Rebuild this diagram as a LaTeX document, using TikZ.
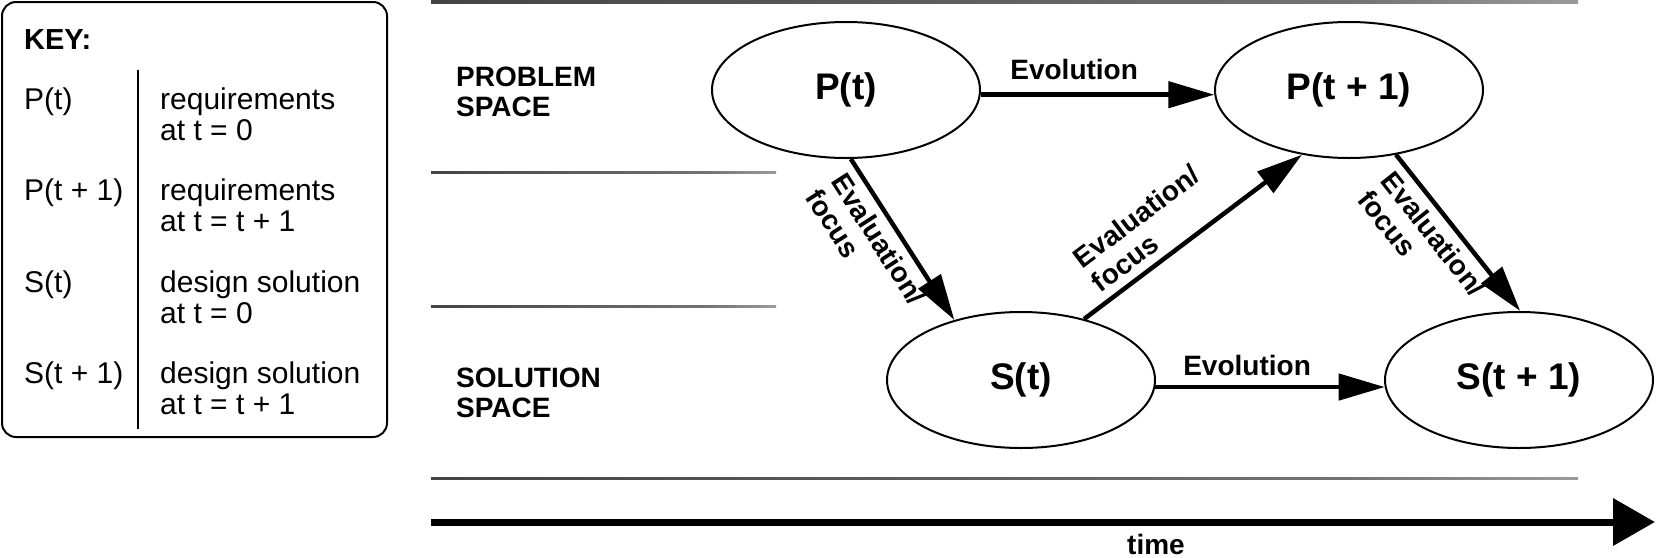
\documentclass[tikz,border=0pt]{standalone}
\usepackage{fontspec}
\setmainfont{Liberation Sans}
\usetikzlibrary{shapes.geometric,arrows.meta}
\pgfdeclarehorizontalshading{fadeline}{100bp}{color(0bp)=(black!85); color(65bp)=(black!55); color(100bp)=(white)}
\begin{document}
\begin{tikzpicture}[x=1pt,y=-1pt,
  state/.style={ellipse, draw, line width=2pt, minimum width=268pt, minimum height=136pt, inner sep=0pt, font=\fontsize{37}{42}\selectfont\bfseries},
  flow/.style={line width=4.5pt, -{Triangle[length=46pt,width=26pt]}},
  lbl/.style={font=\fontsize{28}{30}\selectfont\bfseries, inner sep=2pt},
  keytxt/.style={font=\fontsize{30}{31}\selectfont, inner sep=0pt, anchor=base west, align=left},
  keyhead/.style={font=\fontsize{29}{30}\selectfont\bfseries, inner sep=0pt, anchor=base west},
  fade/.style={shading=fadeline}
]
\useasboundingbox (0,0) rectangle (1656,557);

% background lines
\shade[fade] (431,0.5) rectangle (1578,3);
\shade[fade] (431,171) rectangle (776,173.5);
\shade[fade] (431,305) rectangle (776,307.5);
\shade[fade] (431,477) rectangle (1578,479.5);

% key
\draw[line width=2pt, rounded corners=14pt] (2,2) rectangle (387,437);
\node[keyhead] (key) at (24,49) {KEY:};
\draw[line width=1.5pt] (138,70) -- (138,429);
\node[keytxt] (k1) at (24,109) {P(t)};
\node[keytxt] (d1) at (160,140) {requirements\\at t = 0};
\node[keytxt] (k2) at (24,200) {P(t + 1)};
\node[keytxt] (d2) at (160,231) {requirements\\at t = t + 1};
\node[keytxt] (k3) at (24,292) {S(t)};
\node[keytxt] (d3) at (160,323) {design solution\\at t = 0};
\node[keytxt] (k4) at (24,383) {S(t + 1)};
\node[keytxt] (d4) at (160,414) {design solution\\at t = t + 1};

% space labels
\node[lbl, align=left, anchor=west, inner sep=0pt] (ps) at (456,92) {PROBLEM\\SPACE};
\node[lbl, align=left, anchor=west, inner sep=0pt] (ss) at (456,393) {SOLUTION\\SPACE};

% states
\node[state] (Pt) at (846,90) {P(t)};
\node[state] (Pt1) at (1349,90) {P(t + 1)};
\node[state] (St) at (1021,380) {S(t)};
\node[state] (St1) at (1519,380) {S(t + 1)};

\draw[flow] (Pt.-2) -- node[lbl, above=11pt, pos=0.4] (ev1) {Evolution} (Pt1.182);
\draw[flow] (St.-3) -- node[lbl, above=7pt, pos=0.4] (ev2) {Evolution} (St1.183);

\draw[flow] (Pt.-86) -- node[lbl, sloped, below=5pt, pos=0.43, align=left] (ef1) {Evaluation/\\focus} (St.138);
\draw[flow] (St.44) -- node[lbl, sloped, above=6pt, pos=0.38, align=left] (ef2) {Evaluation/\\focus} (Pt1.-126);
\draw[flow] (Pt1.-54) -- node[lbl, sloped, below=5pt, pos=0.43, align=left] (ef3) {Evaluation/\\focus} (St1.89);

% time
\coordinate (t0) at (431,522);
\coordinate (t1) at (1655,522);
\draw[line width=7pt, -{Triangle[length=42pt,width=46pt]}] (t0) -- (t1);
\node[lbl, inner sep=0pt] (time) at (1156,544) {time};
\end{tikzpicture}
\end{document}
